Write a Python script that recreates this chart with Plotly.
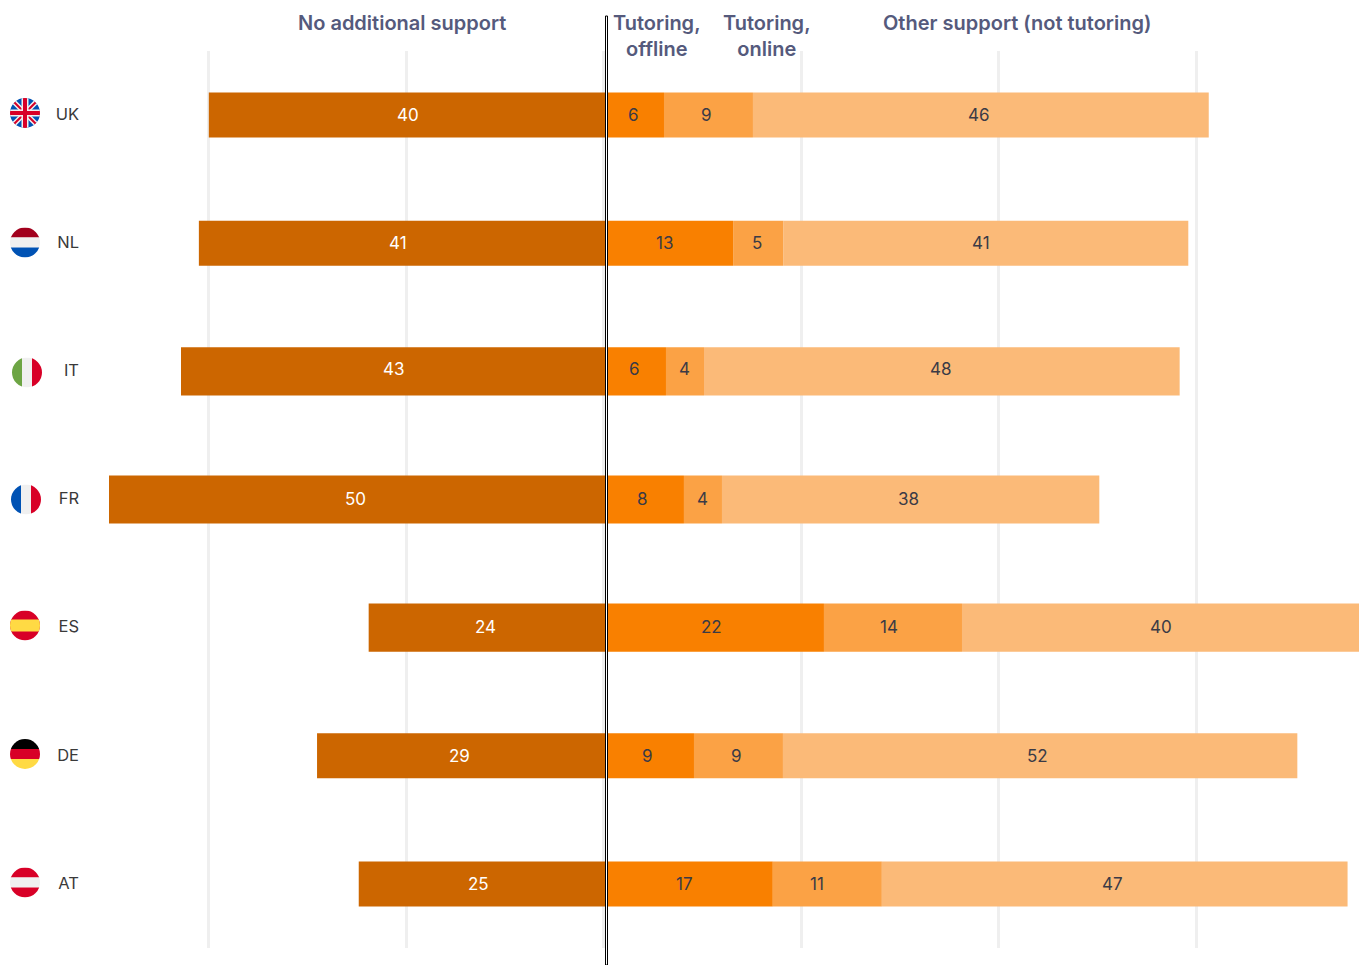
import base64
import plotly.graph_objects as go

W, H = 1359, 965

countries = ["UK", "NL", "IT", "FR", "ES", "DE", "AT"]
no_support = [40.0, 41.0, 42.8, 50.05, 23.9, 29.1, 24.9]
tutoring_offline = [5.84, 12.8, 6.04, 7.85, 21.95, 8.86, 16.8]
tutoring_online = [8.96, 5.04, 3.83, 3.83, 13.9, 8.96, 10.98]
other_support = [45.9, 40.8, 47.9, 38.0, 40.0, 51.8, 46.9]
headers = ["No additional support", "Tutoring,<br>offline", "Tutoring,<br>online", "Other support (not tutoring)"]
grid_ticks = [-40, -20, 0, 20, 40, 60]

C_DARK, C_ORANGE, C_MID, C_LIGHT = "#CC6600", "#F98000", "#FBA245", "#FBBA78"
TXT = "#3A3A46"
HEAD = "#555A7C"
FONT = "Inter"

bar_heights = [0.352, 0.352, 0.375, 0.375, 0.375, 0.352, 0.352]

# small label placement corrections (pixels), one row per country
label_dx = [
    [1, -2, -2, -2],
    [-4, -5.5, -1, -5],
    [-0.5, -1, 0, -1],
    [-2.5, -2, 0, -2],
    [-2, -3, -4, 0],
    [-2.5, -2, -2, -3],
    [-4, -5, -10, -2],
]
label_dy = [0, 0, 2, 1, 1, 0, 0]

fig = go.Figure()
series = [
    ("No additional support", [-v for v in no_support], C_DARK, "white"),
    ("Tutoring, offline", tutoring_offline, C_ORANGE, TXT),
    ("Tutoring, online", tutoring_online, C_MID, TXT),
    ("Other support (not tutoring)", other_support, C_LIGHT, TXT),
]
for name, xs, col, tc in series:
    fig.add_trace(go.Bar(
        name=name, y=countries, x=xs, orientation="h", width=bar_heights,
        marker=dict(color=col, line=dict(width=0)),
        hovertemplate="%{y}: %{x:.0f}<extra>" + name + "</extra>", showlegend=False,
    ))
# carrier trace so the gridline axis is drawn
fig.add_trace(go.Scatter(x=[], y=[], xaxis="x2", yaxis="y", showlegend=False, hoverinfo="skip"))

# value labels, placed at each segment's middle
for i, c in enumerate(countries):
    start = 0.0
    for j, (name, xs, col, tc) in enumerate(series):
        v = xs[i]
        mid = v / 2 if v < 0 else start + v / 2
        if v > 0:
            start += v
        fig.add_annotation(text=str(round(abs(v))), xref="x", yref="y", x=mid, y=c,
                           xshift=label_dx[i][j], yshift=label_dy[i], showarrow=False,
                           font=dict(family=FONT, size=17, color=tc))

PX = 9.93      # bar axis px per unit
X0 = 606
GPX = 9.88     # gridline axis px per unit
G0 = 603.7

fig.update_layout(
    width=W, height=H, margin=dict(l=0, r=0, t=0, b=0),
    paper_bgcolor="white", plot_bgcolor="white",
    barmode="relative", bargap=0.64,
    xaxis=dict(domain=[0, 1], range=[(0 - X0) / PX, (W - X0) / PX], showgrid=False,
               zeroline=False, showticklabels=False, ticks="", fixedrange=True),
    xaxis2=dict(overlaying="x", domain=[0, 1], range=[(0 - G0) / GPX, (W - G0) / GPX],
                tickmode="array", tickvals=grid_ticks, showgrid=True, gridcolor="#EFEFEF", gridwidth=2.7,
                zeroline=False, showticklabels=False, ticks="", anchor="y", side="bottom",
                fixedrange=True),
    yaxis=dict(domain=[1 - 948 / H, 1 - 51 / H], range=[6.5, -0.5], type="category",
               categoryorder="array", categoryarray=countries,
               anchor="free", position=79 / W, ticks="", ticklen=0, showline=False,
               showgrid=False, zeroline=False, ticklabelstandoff=0, ticklabelshift=1,
               tickfont=dict(family=FONT, size=16.5, color="#3A3A3A"), fixedrange=True),
    font=dict(family=FONT),
)

# double centre line
fig.add_shape(type="rect", xref="x", yref="paper", xsizemode="pixel", xanchor=0,
              x0=-0.5, x1=1.5, y0=0, y1=1 - 16 / H,
              fillcolor="white", line=dict(color="black", width=1), layer="above")

# column headers
for text, cx in zip(headers, [402, 657, 766.5, 1017]):
    fig.add_annotation(text=text, xref="paper", yref="paper", x=cx / W, y=1 - 9 / H,
                       xanchor="center", yanchor="top", showarrow=False, align="center",
                       font=dict(family=FONT, size=20, color=HEAD, weight=600))

# flags
R, B, WH, DR, G, Y, K = "#D80027", "#0052B4", "#F0F0F0", "#A2001D", "#6DA544", "#FFDA44", "#000000"


def hbands(a, b, c):
    return (f'<rect width="30" height="10" fill="{a}"/><rect y="10" width="30" height="10" fill="{b}"/>'
            f'<rect y="20" width="30" height="10" fill="{c}"/>')


def vbands(a, b, c):
    return (f'<rect width="10" height="30" fill="{a}"/><rect x="10" width="10" height="30" fill="{b}"/>'
            f'<rect x="20" width="10" height="30" fill="{c}"/>')


uk = (f'<rect width="30" height="30" fill="{B}"/>'
      f'<path d="M0 0L30 30M30 0L0 30" stroke="{WH}" stroke-width="5"/>'
      f'<path d="M0 0L30 30M30 0L0 30" stroke="{R}" stroke-width="2"/>'
      f'<rect x="11.5" width="7" height="30" fill="{WH}"/><rect y="11.5" width="30" height="7" fill="{WH}"/>'
      f'<rect x="13" width="4" height="30" fill="{R}"/><rect y="13" width="30" height="4" fill="{R}"/>')
es = (f'<rect width="30" height="30" fill="{R}"/><rect y="9" width="30" height="12" fill="{Y}"/>')
flags = {
    "UK": (uk, 25, 113),
    "NL": (hbands(DR, WH, B), 25, 242.5),
    "IT": (vbands(G, WH, R), 27, 372.5),
    "FR": (vbands(B, WH, R), 26, 499.5),
    "ES": (es, 25, 625.5),
    "DE": (hbands(K, R, Y), 25, 754),
    "AT": (hbands(R, WH, R), 25, 882.5),
}
for code, (body, cx, cy) in flags.items():
    svg = ('<svg xmlns="http://www.w3.org/2000/svg" width="30" height="30" viewBox="0 0 30 30">'
           f'<defs><clipPath id="c"><circle cx="15" cy="15" r="15"/></clipPath></defs>'
           f'<g clip-path="url(#c)">{body}</g></svg>')
    src = "data:image/svg+xml;base64," + base64.b64encode(svg.encode()).decode()
    fig.add_layout_image(source=src, xref="paper", yref="paper", x=cx / W, y=1 - cy / H,
                         sizex=30 / W, sizey=30 / H, xanchor="center", yanchor="middle",
                         sizing="stretch", layer="above")

fig.write_html("out.html", config={"displayModeBar": False},
               post_script="document.body.style.margin='0';document.body.style.overflow='hidden';")
